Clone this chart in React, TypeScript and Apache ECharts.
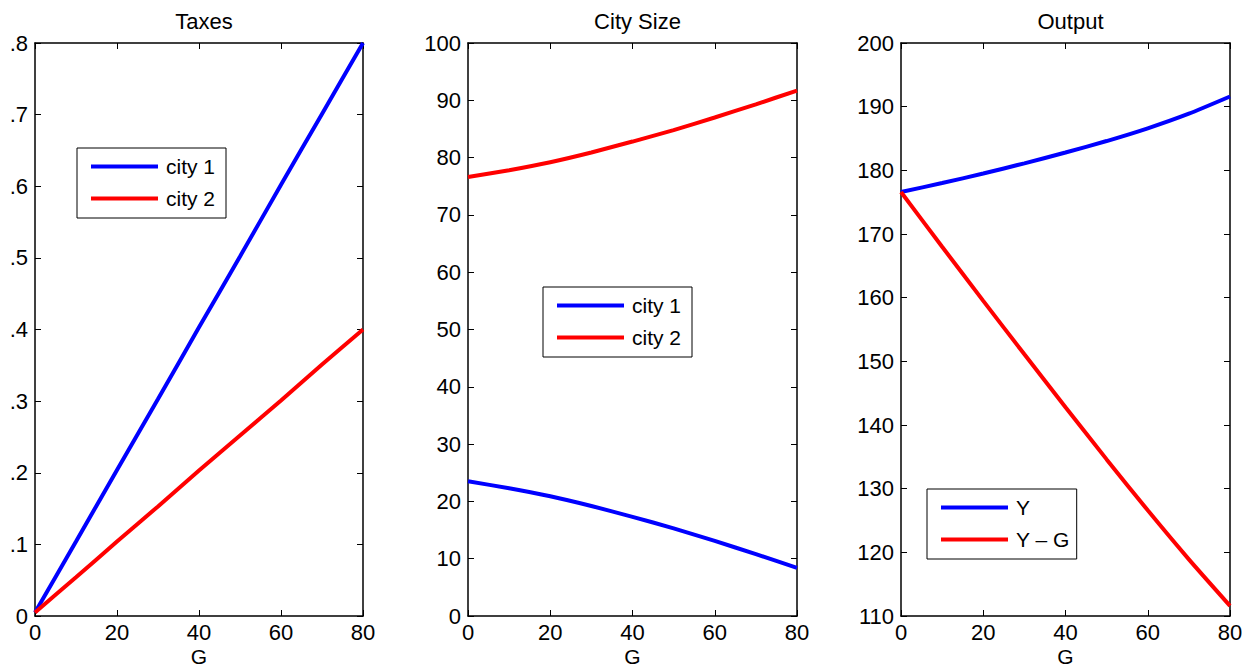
import React, { useEffect, useRef } from 'react';
import * as echarts from 'echarts';

const G = [0, 10, 20, 30, 40, 50, 60, 70, 80];
const taxCity1 = [0.005, 0.104, 0.204, 0.303, 0.403, 0.502, 0.602, 0.701, 0.8];
const taxCity2 = [0.005, 0.054, 0.104, 0.153, 0.203, 0.252, 0.301, 0.351, 0.4];
const sizeCity1 = [23.5, 22.3, 20.9, 19.2, 17.3, 15.3, 13.1, 10.8, 8.4];
const sizeCity2 = [76.6, 77.8, 79.2, 80.9, 82.8, 84.8, 87.0, 89.3, 91.7];
const outputY = [176.6, 178.0, 179.5, 181.1, 182.8, 184.6, 186.6, 188.9, 191.6];
const outputYminusG = [176.6, 168.0, 159.5, 151.1, 142.8, 134.6, 126.6, 118.9, 111.6];

const titles = ['Taxes', 'City Size', 'Output'];
const xName = 'G';
const legendCities = ['city 1', 'city 2'];
const legendOutput = ['Y', 'Y \u2013 G'];

const FONT = '"Liberation Sans", Arial, Helvetica, sans-serif';
const BLUE = '#0000ff';
const RED = '#ff0000';

export default function App() {
  const ref = useRef<HTMLDivElement>(null);

  useEffect(() => {
    if (!ref.current) return;
    const chart = echarts.init(ref.current, undefined, { renderer: 'svg' });

    const grids = [
      { left: 35, top: 43, width: 328, height: 573, outerBoundsMode: 'none', containLabel: false },
      { left: 468, top: 43, width: 329, height: 573, outerBoundsMode: 'none', containLabel: false },
      { left: 901, top: 43, width: 329, height: 573, outerBoundsMode: 'none', containLabel: false },
    ];
    const yRanges = [
      { min: 0, max: 0.8, interval: 0.1, fmt: (v: number) => (v === 0 ? '0' : v.toFixed(1).replace(/^0/, '')) },
      { min: 0, max: 100, interval: 10, fmt: (v: number) => String(v) },
      { min: 110, max: 200, interval: 10, fmt: (v: number) => String(v) },
    ];

    const axisLine = { show: true, onZero: false, lineStyle: { color: '#000', width: 1.5 } };
    const axisTick = { show: true, inside: true, length: 6, lineStyle: { color: '#000', width: 1 } };

    const xAxis: any[] = [];
    const yAxis: any[] = [];
    grids.forEach((_, i) => {
      xAxis.push({
        type: 'value', gridIndex: i, position: 'bottom', min: 0, max: 80, interval: 20,
        axisLine, axisTick, splitLine: { show: false },
        axisLabel: { color: '#000', fontSize: 22, fontFamily: FONT, margin: 5 },
        name: xName, nameLocation: 'middle', nameGap: 30, nameMoveOverlap: false,
        nameTextStyle: { color: '#000', fontSize: 21, fontFamily: FONT, lineHeight: 21 },
      });
      xAxis.push({
        type: 'value', gridIndex: i, position: 'top', min: 0, max: 80, interval: 20,
        axisLine, axisTick, splitLine: { show: false }, axisLabel: { show: false },
      });
      const r = yRanges[i];
      yAxis.push({
        type: 'value', gridIndex: i, position: 'left', min: r.min, max: r.max, interval: r.interval,
        axisLine, axisTick, splitLine: { show: false },
        axisLabel: { color: '#000', fontSize: 22, fontFamily: FONT, margin: 7, formatter: r.fmt },
      });
      yAxis.push({
        type: 'value', gridIndex: i, position: 'right', min: r.min, max: r.max, interval: r.interval,
        axisLine, axisTick, splitLine: { show: false }, axisLabel: { show: false },
      });
    });

    const mk = (name: string, panel: number, arr: number[], color: string) => ({
      type: 'line', name, xAxisIndex: panel * 2, yAxisIndex: panel * 2,
      data: G.map((g, k) => [g, arr[k]]),
      symbol: 'none', clip: false, smooth: 0.2,
      lineStyle: { color, width: 4 }, itemStyle: { color },
    });

    const series = [
      mk(legendCities[0], 0, taxCity1, BLUE),
      mk(legendCities[1], 0, taxCity2, RED),
      mk(legendCities[0], 1, sizeCity1, BLUE),
      mk(legendCities[1], 1, sizeCity2, RED),
      mk(legendOutput[0], 2, outputY, BLUE),
      mk(legendOutput[1], 2, outputYminusG, RED),
    ];

    const legendBase = {
      orient: 'vertical', itemWidth: 67, itemHeight: 4, itemGap: 11, icon: 'rect',
      borderColor: '#000', borderWidth: 1, backgroundColor: '#fff', selectedMode: false,
      textStyle: { color: '#000', fontSize: 21, fontFamily: FONT, lineHeight: 21, padding: [0, 0, 0, 3] },
    };

    chart.setOption({
      animation: false,
      backgroundColor: '#fff',
      title: titles.map((t, i) => ({
        text: t, left: grids[i].left + grids[i].width / 2, top: 5, textAlign: 'center',
        textStyle: { color: '#000', fontSize: 22, fontWeight: 'normal', fontFamily: FONT },
      })),
      grid: grids,
      xAxis, yAxis,
      legend: [
        { ...legendBase, left: 77, top: 148, padding: [8, 11, 9, 14], data: legendCities },
        { ...legendBase, left: 543, top: 287, padding: [8, 11, 9, 14], data: legendCities },
        { ...legendBase, left: 927, top: 489, padding: [8, 7, 9, 14], data: legendOutput },
      ],
      series,
    });

    return () => chart.dispose();
  }, []);

  return <div ref={ref} style={{ position: 'absolute', left: 0, top: 0, width: 1246, height: 668 }} />;
}
